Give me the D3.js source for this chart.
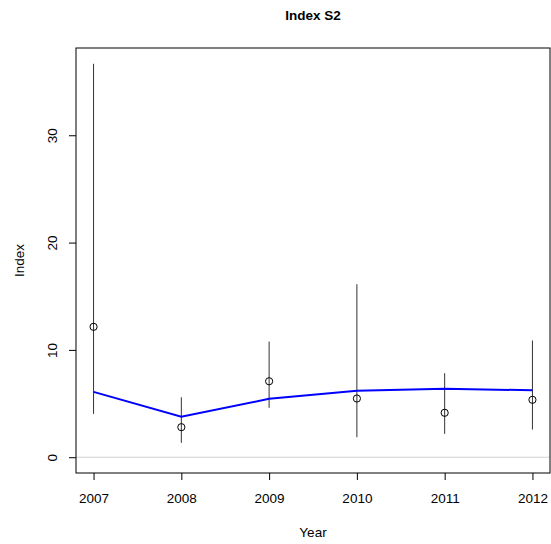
<!DOCTYPE html>
<html>
<head>
<meta charset="utf-8">
<script src="https://cdn.jsdelivr.net/npm/d3@7"></script>
<style>
body { margin: 0; background: #fff; }
svg { display: block; font-family: "Liberation Sans", Arial, sans-serif; }
</style>
</head>
<body>
<svg id="chart" width="551" height="544"></svg>
<script>
const years = [2007, 2008, 2009, 2010, 2011, 2012];
const observed = [12.15, 2.80, 7.08, 5.47, 4.14, 5.35];
const lower = [4.04, 1.34, 4.60, 1.86, 2.18, 2.58];
const upper = [36.66, 5.59, 10.78, 16.12, 7.83, 10.88];
const fitted = [6.09, 3.77, 5.44, 6.19, 6.37, 6.24];
const yTicks = [0, 10, 20, 30];

(function () {
const svg = d3.select("#chart");
const pl = 76, pr = 550, pt = 48, pb = 473;
const fs = 13.5;

const x = d3.scaleLinear().domain([2006.8, 2012.2]).range([pl, pr]);
const y = d3.scaleLinear().domain([-1.47, 38.13]).range([pb, pt]);

// zero reference line
svg.append("line")
  .attr("x1", pl).attr("x2", pr)
  .attr("y1", y(0)).attr("y2", y(0))
  .attr("stroke", "#d3d3d3").attr("stroke-width", 1);

// error bars
svg.append("g").selectAll("line").data(years).join("line")
  .attr("x1", d => x(d)).attr("x2", d => x(d))
  .attr("y1", (d, i) => y(lower[i])).attr("y2", (d, i) => y(upper[i]))
  .attr("stroke", "#333").attr("stroke-width", 1);

// fitted line
svg.append("path")
  .datum(years.map((d, i) => [d, fitted[i]]))
  .attr("d", d3.line().x(d => x(d[0])).y(d => y(d[1])))
  .attr("fill", "none").attr("stroke", "#0000ff").attr("stroke-width", 2);

// observed points
svg.append("g").selectAll("circle").data(years).join("circle")
  .attr("cx", d => x(d)).attr("cy", (d, i) => y(observed[i]))
  .attr("r", 3.6).attr("fill", "none").attr("stroke", "#000").attr("stroke-width", 1);

// box
svg.append("rect")
  .attr("x", pl).attr("y", pt)
  .attr("width", pr - pl).attr("height", pb - pt)
  .attr("fill", "none").attr("stroke", "#000").attr("stroke-width", 1);

// x axis
const xAxis = svg.append("g")
  .attr("transform", `translate(0,${pb})`)
  .call(d3.axisBottom(x).tickValues(years).tickFormat(d3.format("d")).tickSize(7).tickPadding(13));
xAxis.select(".domain").remove();
xAxis.selectAll("text").attr("font-size", fs).attr("fill", "#000").attr("font-family", "Liberation Sans, Arial, sans-serif");
xAxis.selectAll("line").attr("stroke", "#000");

// y axis
const yAxis = svg.append("g")
  .attr("transform", `translate(${pl},0)`)
  .call(d3.axisLeft(y).tickValues(yTicks).tickSize(7).tickFormat(d3.format("d")));
yAxis.select(".domain").remove();
yAxis.selectAll("line").attr("stroke", "#000");
yAxis.selectAll("text")
  .attr("font-size", fs).attr("fill", "#000")
  .attr("font-family", "Liberation Sans, Arial, sans-serif")
  .attr("text-anchor", "middle")
  .attr("x", null).attr("dy", null)
  .attr("transform", "translate(-19,0) rotate(-90)")
  .attr("y", 0);

// titles
svg.append("text")
  .attr("x", (pl + pr) / 2).attr("y", 20)
  .attr("text-anchor", "middle").attr("font-weight", "bold").attr("font-size", fs)
  .text("Index S2");
svg.append("text")
  .attr("x", (pl + pr) / 2).attr("y", 537)
  .attr("text-anchor", "middle").attr("font-size", fs)
  .text("Year");
svg.append("text")
  .attr("transform", `translate(24,${(pt + pb) / 2}) rotate(-90)`)
  .attr("text-anchor", "middle").attr("font-size", fs)
  .text("Index");
})();
</script>
</body>
</html>
